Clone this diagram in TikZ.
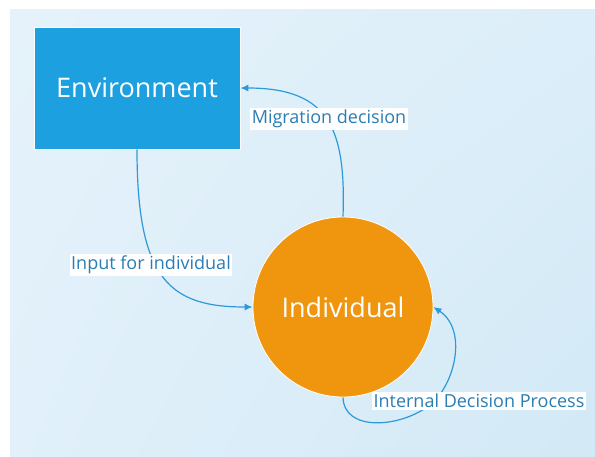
\documentclass[tikz,border=0pt]{standalone}
\usepackage{fontspec}
\setmainfont{Open Sans}
\usetikzlibrary{arrows.meta,shadings}
\definecolor{bgTL}{HTML}{E5F2FA}
\definecolor{bgTR}{HTML}{DCEEF9}
\definecolor{bgBL}{HTML}{E1F0FA}
\definecolor{bgBR}{HTML}{D2E9F6}
\definecolor{envblue}{HTML}{1CA0E0}
\definecolor{indorange}{HTML}{F0960E}
\definecolor{linkblue}{HTML}{2C9AD8}
\definecolor{labelblue}{HTML}{2A7DB4}
\tikzset{
  box/.style={draw=white, line width=0.8pt, fill=envblue, text=white,
    minimum width=206pt, minimum height=122pt, inner sep=0pt,
    font=\fontsize{27}{32}\selectfont},
  disc/.style={circle, draw=white, line width=0.8pt, fill=indorange, text=white,
    minimum size=180pt, inner sep=0pt, font=\fontsize{27}{32}\selectfont},
  link/.style={draw=linkblue, line width=1.2pt,
    -{Latex[length=8pt,width=7pt]}},
  tag/.style={fill=white, text=labelblue, inner xsep=1.5pt, inner ysep=2pt,
    font=\fontsize{18}{22}\selectfont}
}
\begin{document}
\begin{tikzpicture}[x=1pt,y=-1pt]
  \useasboundingbox (0,0) rectangle (595,456);
  % backdrop
  \shade[upper left=bgTL, upper right=bgTR, lower left=bgBL, lower right=bgBR]
    (10,9) rectangle (595,456);

  % the two actors
  \node[box]  (env) at (137,88)  {Environment};
  \node[disc] (ind) at (343,307) {Individual};

  % connectors
  \draw[link] (env.south) .. controls (137,280) and (170,307) .. (ind.west);
  \draw[link] (ind.north) .. controls (346,130) and (330,88) .. (env.east);
  \draw[link] (ind.south) .. controls (344,432) and (400,428) .. (430,405)
                          .. controls (455,385) and (468,330) .. (ind.east);

  % connector labels
  \node[tag] (tin)  at (151,265) {Input for individual};
  \node[tag] (tmig) at (329,119) {Migration decision};
  \node[tag] (tint) at (479,401) {Internal Decision Process};
\end{tikzpicture}
\end{document}
